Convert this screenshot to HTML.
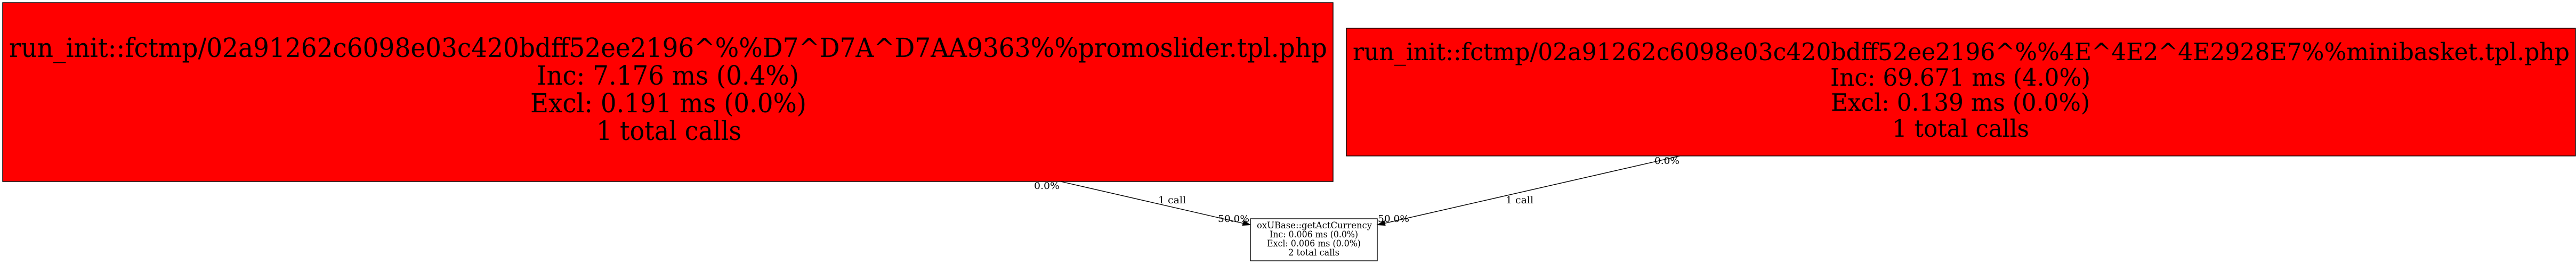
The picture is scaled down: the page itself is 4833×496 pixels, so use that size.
<!DOCTYPE html>
<html><head><meta charset="utf-8"><style>
html,body{margin:0;padding:0;background:#fff;width:4833px;height:496px;overflow:hidden}
svg{display:block}
text{font-family:"DejaVu Serif",serif;fill:#000}
.a{font-size:50px}.b{font-size:44.5px}.c{font-size:16.5px}.e{font-size:17.5px}
</style></head><body>
<svg width="4833" height="496" viewBox="0 0 4833 496" xmlns="http://www.w3.org/2000/svg">
<rect width="4833" height="496" fill="#fff"/>
<rect x="5" y="5" width="2496" height="336" fill="#f00" stroke="#000" stroke-width="1.4"/>
<text class="a" x="17" y="107" textLength="2473" lengthAdjust="spacingAndGlyphs">run_init::fctmp/02a91262c6098e03c420bdff52ee2196^%%D7^D7A^D7AA9363%%promoslider.tpl.php</text>
<text class="a" x="1007" y="159" textLength="492" lengthAdjust="spacingAndGlyphs">Inc: 7.176 ms (0.4%)</text>
<text class="a" x="995" y="211" textLength="518" lengthAdjust="spacingAndGlyphs">Excl: 0.191 ms (0.0%)</text>
<text class="a" x="1119" y="263" textLength="272" lengthAdjust="spacingAndGlyphs">1 total calls</text>
<rect x="2526" y="53" width="2306" height="240" fill="#f00" stroke="#000" stroke-width="1.4"/>
<text class="b" x="2538" y="113" textLength="2283" lengthAdjust="spacingAndGlyphs">run_init::fctmp/02a91262c6098e03c420bdff52ee2196^%%4E^4E2^4E2928E7%%minibasket.tpl.php</text>
<text class="b" x="3434" y="161" textLength="488" lengthAdjust="spacingAndGlyphs">Inc: 69.671 ms (4.0%)</text>
<text class="b" x="3435" y="208" textLength="486" lengthAdjust="spacingAndGlyphs">Excl: 0.139 ms (0.0%)</text>
<text class="b" x="3550" y="257" textLength="257" lengthAdjust="spacingAndGlyphs">1 total calls</text>
<rect x="2346" y="411" width="238" height="79" fill="#fff" stroke="#000" stroke-width="1.4"/>
<text class="c" x="2358" y="429" textLength="216" lengthAdjust="spacingAndGlyphs">oxUBase::getActCurrency</text>
<text class="c" x="2382" y="446" textLength="166" lengthAdjust="spacingAndGlyphs">Inc: 0.006 ms (0.0%)</text>
<text class="c" x="2377" y="463" textLength="176" lengthAdjust="spacingAndGlyphs">Excl: 0.006 ms (0.0%)</text>
<text class="c" x="2417" y="480" textLength="96" lengthAdjust="spacingAndGlyphs">2 total calls</text>
<line x1="1990" y1="341" x2="2332" y2="419.5" stroke="#000" stroke-width="1.4"/>
<polygon points="2346,422.5 2331,423.5 2334,414.5" fill="#000" stroke="#000"/>
<line x1="3152" y1="293" x2="2598" y2="419.5" stroke="#000" stroke-width="1.4"/>
<polygon points="2584,422.5 2599,423.5 2597,414.5" fill="#000" stroke="#000"/>
<text class="e" x="1940" y="355" textLength="48" lengthAdjust="spacingAndGlyphs">0.0%</text>
<text class="e" x="2173" y="382" textLength="52" lengthAdjust="spacingAndGlyphs">1 call</text>
<text class="e" x="2285" y="417" textLength="59" lengthAdjust="spacingAndGlyphs">50.0%</text>
<text class="e" x="2585" y="417" textLength="59" lengthAdjust="spacingAndGlyphs">50.0%</text>
<text class="e" x="2825" y="382" textLength="52" lengthAdjust="spacingAndGlyphs">1 call</text>
<text class="e" x="3104" y="308" textLength="47" lengthAdjust="spacingAndGlyphs">0.0%</text>
</svg>
</body></html>
